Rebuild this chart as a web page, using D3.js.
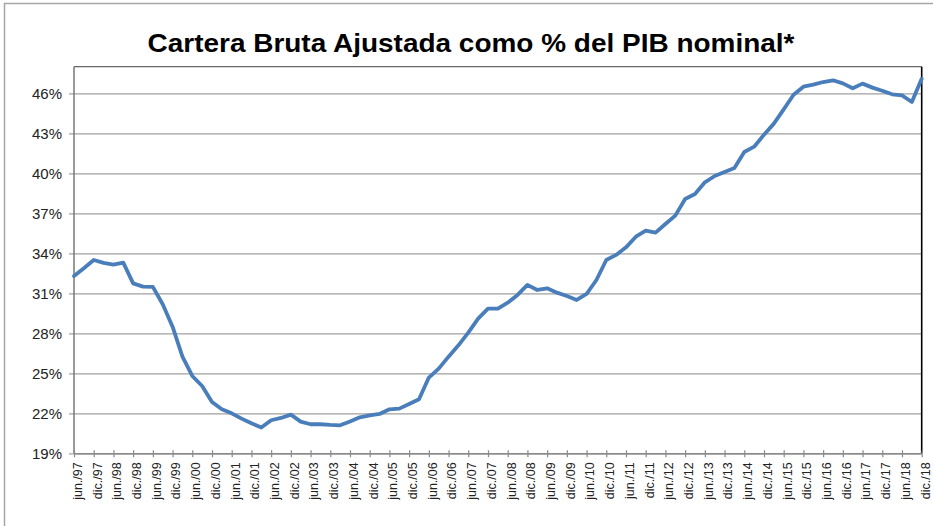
<!DOCTYPE html>
<html>
<head>
<meta charset="utf-8">
<script src="https://cdn.jsdelivr.net/npm/d3@7"></script>
<style>
  body { margin: 0; background: #fff; }
  svg { display: block; }
  text { font-family: "Liberation Sans", Arial, sans-serif; }
</style>
</head>
<body>
<svg id="chart" width="933" height="526"></svg>
<script>
// Cartera bruta ajustada como % del PIB nominal, datos trimestrales jun.97 - dic.18
const title = "Cartera Bruta Ajustada como % del PIB nominal*";

const tickLabels = [
  "jun./97", "dic./97", "jun./98", "dic./98", "jun./99", "dic./99",
  "jun./00", "dic./00", "jun./01", "dic./01", "jun./02", "dic./02",
  "jun./03", "dic./03", "jun./04", "dic./04", "jun./05", "dic./05",
  "jun./06", "dic./06", "jun./07", "dic./07", "jun./08", "dic./08",
  "jun./09", "dic./09", "jun./10", "dic./10", "jun./11", "dic./11",
  "jun./12", "dic./12", "jun./13", "dic./13", "jun./14", "dic./14",
  "jun./15", "dic./15", "jun./16", "dic./16", "jun./17", "dic./17",
  "jun./18", "dic./18"
];

// one value per quarter, starting jun.97
const cartera = [
  32.30, 32.88, 33.50, 33.28, 33.15, 33.30, 31.75, 31.50, 31.48, 30.18,
  28.50, 26.25, 24.80, 24.05, 22.85, 22.30, 22.00, 21.60, 21.25, 20.93,
  21.48, 21.65, 21.90,
  21.38, 21.18, 21.18, 21.13, 21.10, 21.38, 21.70, 21.85, 21.95, 22.30,
  22.35, 22.70, 23.05, 24.68, 25.35, 26.25, 27.10, 28.05, 29.10, 29.85,
  29.85,
  30.30, 30.88, 31.63, 31.25, 31.38, 31.05, 30.80, 30.50, 30.95, 32.00,
  33.50, 33.88, 34.45, 35.25, 35.70, 35.55, 36.20, 36.83, 38.08, 38.45,
  39.33, 39.80,
  40.10, 40.40, 41.60, 42.00, 42.90, 43.73, 44.80, 45.90, 46.50, 46.65,
  46.85, 46.98, 46.75, 46.38, 46.73, 46.43, 46.20, 45.93, 45.85, 45.35,
  47.10
];

const yTicks = [19, 22, 25, 28, 31, 34, 37, 40, 43, 46];
const yDomain = [19, 48];

const svg = d3.select("#chart");
const plot = { left: 74, right: 921.7, top: 66.7, bottom: 453.3 };

const x = d3.scaleLinear()
  .domain([0, cartera.length - 1])
  .range([plot.left, plot.right]);

const y = d3.scaleLinear()
  .domain(yDomain)
  .range([plot.bottom, plot.top]);

// outer chart frame
svg.append("rect")
  .attr("x", 4.5).attr("y", 3.5)
  .attr("width", 960).attr("height", 560)
  .attr("fill", "none")
  .attr("stroke", "#a6a6a6")
  .attr("stroke-width", 1.5);

// title
svg.append("text")
  .attr("x", 471).attr("y", 52)
  .attr("text-anchor", "middle")
  .attr("font-size", 25)
  .attr("font-weight", "bold")
  .attr("fill", "#000")
  .attr("textLength", 647)
  .attr("lengthAdjust", "spacingAndGlyphs")
  .text(title);

// horizontal gridlines + y axis labels
const yAxis = d3.axisLeft(y)
  .tickValues(yTicks)
  .tickSize(-(plot.right - plot.left))
  .tickPadding(12)
  .tickFormat(d => d + "%");

const gy = svg.append("g")
  .attr("transform", `translate(${plot.left},0)`)
  .call(yAxis);
gy.select(".domain").remove();
gy.selectAll(".tick line")
  .attr("x1", -5)
  .attr("stroke", "#a0a0a0")
  .attr("stroke-width", 1.2);
gy.selectAll(".tick text")
  .attr("font-size", 15)
  .attr("fill", "#222")
  .attr("font-family", "'Liberation Sans', Arial, sans-serif");

// plot frame
svg.append("line")
  .attr("x1", plot.left).attr("x2", plot.left)
  .attr("y1", plot.top).attr("y2", plot.bottom)
  .attr("stroke", "#777").attr("stroke-width", 1.5);
svg.append("line")
  .attr("x1", plot.left).attr("x2", plot.right)
  .attr("y1", plot.top).attr("y2", plot.top)
  .attr("stroke", "#666").attr("stroke-width", 1.2);
svg.append("line")
  .attr("x1", plot.right).attr("x2", plot.right)
  .attr("y1", plot.top).attr("y2", plot.bottom)
  .attr("stroke", "#000").attr("stroke-width", 1.6);

// x axis: a tick every half year (every second quarter)
const xTickIdx = tickLabels.map((_, i) => i * 2);
const xAxis = d3.axisBottom(x)
  .tickValues(xTickIdx)
  .tickSizeInner(4)
  .tickSizeOuter(0)
  .tickFormat((d, i) => tickLabels[i]);

const gx = svg.append("g")
  .attr("transform", `translate(0,${plot.bottom})`)
  .call(xAxis);
gx.select(".domain")
  .attr("stroke", "#8a8a8a")
  .attr("stroke-width", 1.5);
gx.selectAll(".tick line")
  .attr("y1", -3)
  .attr("y2", 4)
  .attr("stroke", "#8a8a8a")
  .attr("stroke-width", 1.2);
gx.selectAll(".tick text")
  .attr("font-size", 12.5)
  .attr("fill", "#222")
  .attr("font-family", "'Liberation Sans', Arial, sans-serif")
  .attr("text-anchor", "end")
  .attr("transform", "rotate(-90)")
  .attr("x", -9)
  .attr("y", 3)
  .attr("dy", "0.35em");

// series line
const line = d3.line()
  .x((d, i) => x(i))
  .y(d => y(d));

svg.append("path")
  .datum(cartera)
  .attr("fill", "none")
  .attr("stroke", "#4a7ebb")
  .attr("stroke-width", 3.8)
  .attr("stroke-linejoin", "round")
  .attr("stroke-linecap", "round")
  .attr("d", line);
</script>
</body>
</html>
